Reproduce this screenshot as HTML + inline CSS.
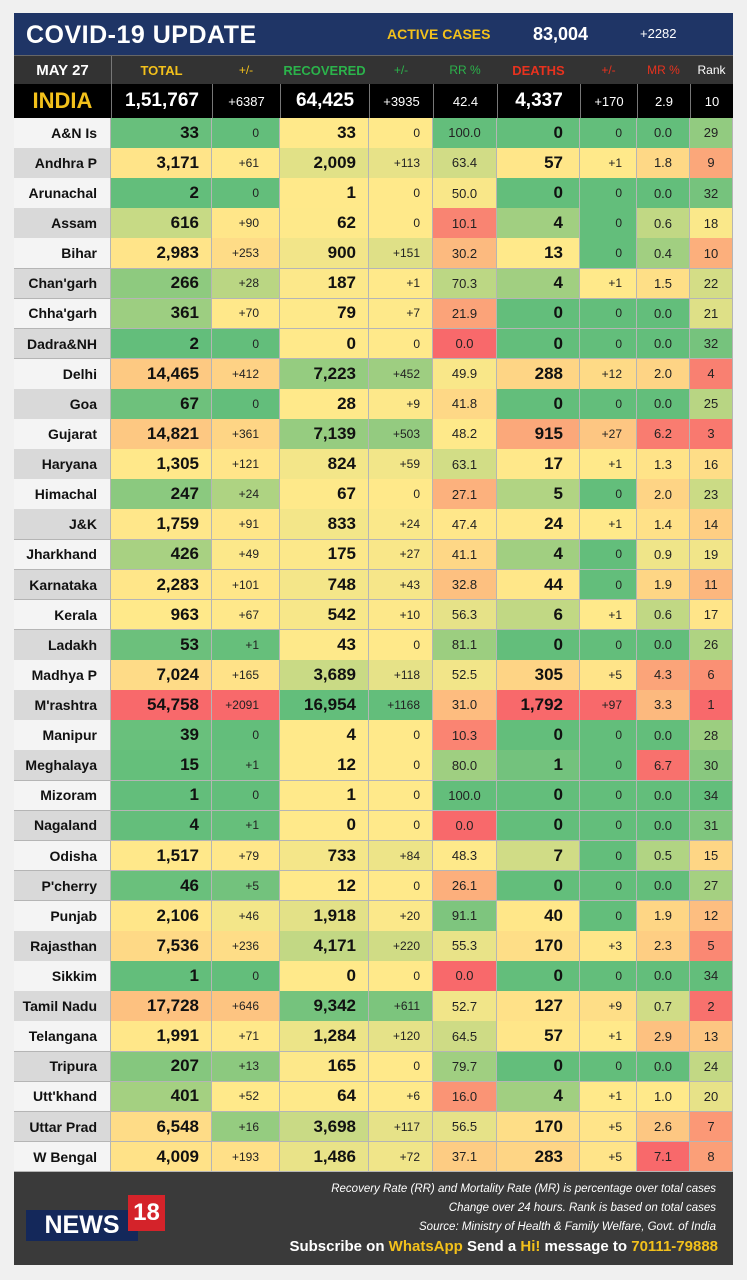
<!DOCTYPE html>
<html><head><meta charset="utf-8">
<style>
body{margin:0;background:#f0f0f0;width:747px;height:1280px;position:relative;overflow:hidden;font-family:"Liberation Sans",sans-serif}
.a{position:absolute;box-sizing:border-box;white-space:nowrap}
.c{display:flex;align-items:center;justify-content:center}
.r{display:flex;align-items:center;justify-content:flex-end}
</style></head><body>
<div class="a" style="left:14px;top:13px;width:719px;height:42px;background:#1f3566"></div>
<div class="a" style="left:26px;top:19px;font-size:25px;font-weight:bold;color:#fff;line-height:32px;letter-spacing:0.5px">COVID-19 UPDATE</div>
<div class="a" style="left:387px;top:25px;font-size:14px;font-weight:bold;color:#f3c11b;line-height:18px">ACTIVE CASES</div>
<div class="a" style="left:533px;top:23px;font-size:18px;font-weight:bold;color:#fff;line-height:22px">83,004</div>
<div class="a" style="left:640px;top:25px;font-size:13px;color:#fff;line-height:18px">+2282</div>
<div class="a" style="left:14px;top:55px;width:719px;height:29px;background:#333;border-top:1px solid #666"></div>
<div id="t"></div>
<div class="a" style="left:14px;top:1172px;width:719px;height:93px;background:#3a3a3a"></div>
<div class="a" style="right:31px;top:1180px;text-align:right;color:#fff;font-style:italic;font-size:11.5px;line-height:19px">Recovery Rate (RR) and Mortality Rate (MR) is percentage over total cases<br>Change over 24 hours. Rank is based on total cases<br>Source: Ministry of Health &amp; Family Welfare, Govt. of India</div>
<div class="a" style="right:29px;top:1237px;color:#fff;font-weight:bold;font-size:15px;line-height:20px">Subscribe on <span style="color:#f3c11b">WhatsApp</span> Send a <span style="color:#f3c11b">Hi!</span> message to <span style="color:#f3c11b">70111-79888</span></div>
<div class="a c" style="left:26px;top:1210px;width:112px;height:31px;background:#14285a;color:#fff;font-weight:bold;font-size:25px">NEWS</div>
<div class="a c" style="left:128px;top:1195px;width:37px;height:36px;background:#d4232a;color:#fff;font-weight:bold;font-size:24px">18</div>
<script>
const D=`A&N Is,33,0,33,0,100.0,0,0,0.0,29
Andhra P,3171,+61,2009,+113,63.4,57,+1,1.8,9
Arunachal,2,0,1,0,50.0,0,0,0.0,32
Assam,616,+90,62,0,10.1,4,0,0.6,18
Bihar,2983,+253,900,+151,30.2,13,0,0.4,10
Chan'garh,266,+28,187,+1,70.3,4,+1,1.5,22
Chha'garh,361,+70,79,+7,21.9,0,0,0.0,21
Dadra&NH,2,0,0,0,0.0,0,0,0.0,32
Delhi,14465,+412,7223,+452,49.9,288,+12,2.0,4
Goa,67,0,28,+9,41.8,0,0,0.0,25
Gujarat,14821,+361,7139,+503,48.2,915,+27,6.2,3
Haryana,1305,+121,824,+59,63.1,17,+1,1.3,16
Himachal,247,+24,67,0,27.1,5,0,2.0,23
J&K,1759,+91,833,+24,47.4,24,+1,1.4,14
Jharkhand,426,+49,175,+27,41.1,4,0,0.9,19
Karnataka,2283,+101,748,+43,32.8,44,0,1.9,11
Kerala,963,+67,542,+10,56.3,6,+1,0.6,17
Ladakh,53,+1,43,0,81.1,0,0,0.0,26
Madhya P,7024,+165,3689,+118,52.5,305,+5,4.3,6
M'rashtra,54758,+2091,16954,+1168,31.0,1792,+97,3.3,1
Manipur,39,0,4,0,10.3,0,0,0.0,28
Meghalaya,15,+1,12,0,80.0,1,0,6.7,30
Mizoram,1,0,1,0,100.0,0,0,0.0,34
Nagaland,4,+1,0,0,0.0,0,0,0.0,31
Odisha,1517,+79,733,+84,48.3,7,0,0.5,15
P'cherry,46,+5,12,0,26.1,0,0,0.0,27
Punjab,2106,+46,1918,+20,91.1,40,0,1.9,12
Rajasthan,7536,+236,4171,+220,55.3,170,+3,2.3,5
Sikkim,1,0,0,0,0.0,0,0,0.0,34
Tamil Nadu,17728,+646,9342,+611,52.7,127,+9,0.7,2
Telangana,1991,+71,1284,+120,64.5,57,+1,2.9,13
Tripura,207,+13,165,0,79.7,0,0,0.0,24
Utt'khand,401,+52,64,+6,16.0,4,+1,1.0,20
Uttar Prad,6548,+16,3698,+117,56.5,170,+5,2.6,7
W Bengal,4009,+193,1486,+72,37.1,283,+5,7.1,8`.split('\n').map(l=>l.split(','));
const X=[14,111,212,280,369,433,497,580,637,690,733];
const R=[248,105,107],Y=[255,233,138],G=[99,190,123];
function mix(a,b,t){t=Math.max(0,Math.min(1,t));return 'rgb('+a.map((v,i)=>Math.round(v+(b[i]-v)*t)).join(',')+')'}
function s3(v,min,mid,max,lo,hi){return v<=mid?mix(lo,Y,(v-min)/(mid-min)):mix(Y,hi,(v-mid)/(max-mid))}
const sc=[null,
 v=>s3(v,0,963,54758,G,R),
 v=>s3(v,0,50,2091,G,R),
 v=>mix(Y,G,v/16954*1.6),
 v=>mix(Y,G,v/1168*1.6),
 v=>s3(v,0,48,100,R,G),
 v=>s3(v,0,10,1792,G,R),
 v=>s3(v,0,1,97,G,R),
 v=>s3(v,0,1.0,7.1,G,R),
 v=>s3(v,1,17.5,34,R,G)];
const fmt=n=>Number(n).toLocaleString('en-US');
let h='';
const hdr=[['MAY 27','#fff',15,true],['TOTAL','#f3c11b',13,true],['+/-','#f3c11b',12,false],['RECOVERED','#2bb34b',13,true],['+/-','#2bb34b',12,false],['RR %','#2bb34b',12,false],['DEATHS','#e8321e',13,true],['+/-','#e8321e',12,false],['MR %','#e8321e',12,false],['Rank','#fff',12,false]];
hdr.forEach((c,i)=>{h+=`<div class="a c" style="left:${X[i]}px;top:56px;width:${X[i+1]-X[i]}px;height:28px;color:${c[1]};font-size:${c[2]}px;font-weight:${c[3]?'bold':'normal'}">${c[0]}</div>`});
h+=`<div class="a" style="left:111px;top:56px;width:1px;height:28px;background:#777"></div>`;
const ind=['INDIA','1,51,767','+6387','64,425','+3935','42.4','4,337','+170','2.9','10'];
h+=`<div class="a" style="left:14px;top:84px;width:719px;height:34px;background:#000"></div>`;
ind.forEach((t,i)=>{const big=[1,3,6].includes(i);h+=`<div class="a c" style="left:${X[i]}px;top:84px;width:${X[i+1]-X[i]}px;height:34px;color:${i==0?'#f3c11b':'#fff'};font-size:${i==0?22:big?19:13}px;font-weight:${i==0||big?'bold':'normal'};border-left:${i?'1px solid #777':'0'}">${t}</div>`});
const top0=118,rh=(1172-118)/35;
D.forEach((r,j)=>{const y=top0+j*rh;
 r.forEach((v,i)=>{const w=X[i+1]-X[i];const st=`left:${X[i]}px;top:${y.toFixed(2)}px;width:${w}px;height:${(rh+0.5).toFixed(2)}px;border-right:1px solid #b5b5b5;border-bottom:1px solid #b5b5b5;`;
  if(i==0){h+=`<div class="a r" style="${st}background:${j%2?'#d9d9d9':'#f4f4f4'};padding-right:13px;font-weight:bold;font-size:14px;color:#111">${v}</div>`;return}
  const num=parseFloat(v);const bg=sc[i](num);
  const big=[1,3,6].includes(i);
  let t=big?fmt(v):v;
  if(big)h+=`<div class="a r" style="${st}background:${bg};padding-right:${i==6?16:12}px;font-weight:bold;font-size:17px;color:#111">${t}</div>`;
  else if(i==2||i==4||i==7)h+=`<div class="a r" style="${st}background:${bg};padding-right:${i==7?14:i==2?20:12}px;font-size:12px;color:#222">${t}</div>`;
  else h+=`<div class="a c" style="${st}background:${bg};font-size:13px;color:#222">${t}</div>`;
 });});
document.getElementById('t').innerHTML=h;
</script>
</body></html>
